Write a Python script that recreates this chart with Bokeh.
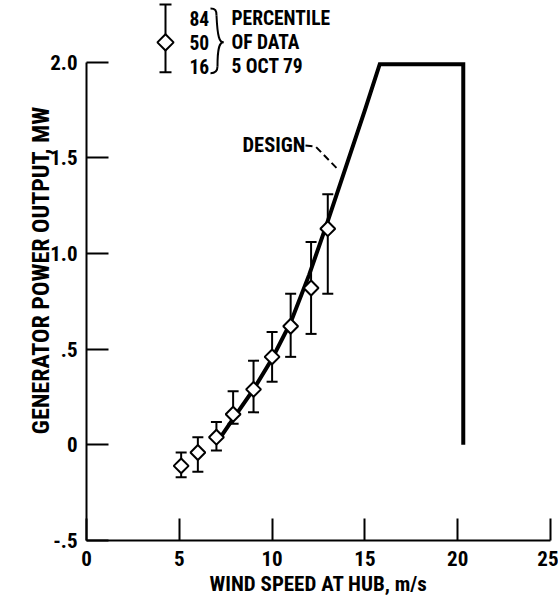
from bokeh.plotting import figure
from bokeh.models import ColumnDataSource, Whisker, TeeHead, Label, FixedTicker, Range1d
from bokeh.embed import file_html
from bokeh.resources import INLINE

# ---- data ----
speed = [5.1, 6.0, 7.0, 7.9, 9.0, 10.0, 11.0, 12.1, 13.0]
p50 = [-0.11, -0.04, 0.04, 0.16, 0.29, 0.46, 0.62, 0.82, 1.13]
p84 = [-0.04, 0.04, 0.12, 0.28, 0.44, 0.59, 0.79, 1.06, 1.31]
p16 = [-0.17, -0.14, -0.03, 0.11, 0.17, 0.33, 0.46, 0.58, 0.79]

design_speed = [7.15, 8.0, 9.0, 10.0, 11.0, 12.0, 13.0, 14.0, 15.0, 15.8, 20.3, 20.3]
design_power = [0.03, 0.15, 0.29, 0.45, 0.64, 0.89, 1.17, 1.46, 1.75, 1.99, 1.99, 0.0]

x_ticks = [0, 5, 10, 15, 20, 25]
x_tick_labels = ["0", "5", "10", "15", "20", "25"]
y_ticks = [-0.5, 0.0, 0.5, 1.0, 1.5, 2.0]
y_tick_labels = ["-.5", "0", ".5", "1.0", "1.5", "2.0"]

x_title = "WIND SPEED AT HUB, m/s"
y_title = "GENERATOR POWER OUTPUT, MW"
legend_levels = ["84", "50", "16"]
legend_text = ["PERCENTILE", "OF DATA", "5 OCT 79"]

FONT = "Roboto Condensed"

# page-pixel -> data helpers for decorations only
X0, XS = 86.0, 18.56
YB, YS = 542.0, 192.0
def dx(px):
    return (px - X0) / XS
def dy(py):
    return (YB - py) / YS - 0.5

p = figure(width=558, height=598,
           x_range=Range1d(0, 25), y_range=Range1d(-0.5, dy(0)),
           output_backend="svg", toolbar_location=None,
           min_border_left=86, min_border_right=8,
           min_border_top=0, min_border_bottom=56)
p.outline_line_color = None
p.xgrid.visible = False
p.ygrid.visible = False
p.background_fill_color = "white"
p.border_fill_color = "white"

for ax, ticks, labels in ((p.xaxis[0], x_ticks, x_tick_labels), (p.yaxis[0], y_ticks, y_tick_labels)):
    ax.ticker = FixedTicker(ticks=ticks)
    ax.major_label_overrides = {t: l for t, l in zip(ticks, labels)}
    ax.major_tick_in = 22
    ax.major_tick_out = 0
    ax.minor_tick_line_color = None
    ax.axis_line_width = 2
    ax.major_tick_line_width = 2
    ax.axis_line_color = "black"
    ax.major_tick_line_color = "black"
    ax.major_label_text_font = FONT
    ax.major_label_text_font_style = "bold"
    ax.major_label_text_font_size = "21px"
    ax.major_label_text_color = "black"
    ax.axis_label_text_font = FONT
    ax.axis_label_text_font_style = "bold"
    ax.axis_label_text_color = "black"

p.xaxis[0].bounds = (0, 25)
p.yaxis[0].bounds = (-0.5, 2.0)
p.xaxis[0].axis_label = x_title
p.yaxis[0].axis_label = y_title
p.xaxis[0].axis_label_text_font_size = "21px"
p.yaxis[0].axis_label_text_font_size = "24px"
p.xaxis[0].major_label_standoff = 10
p.yaxis[0].major_label_standoff = 9
p.xaxis[0].axis_label_standoff = 3
p.yaxis[0].axis_label_standoff = -8

# ---- error bars ----
src = ColumnDataSource(dict(x=speed, y=p50, up=p84, lo=p16))
w = Whisker(source=src, base="x", upper="up", lower="lo", dimension="height",
            line_width=2, line_color="black",
            upper_head=TeeHead(size=11, line_width=2, line_color="black"),
            lower_head=TeeHead(size=11, line_width=2, line_color="black"))
p.add_layout(w)

# ---- design curve ----
p.line(design_speed, design_power, line_width=4, line_color="black", line_join="miter")

# ---- data diamonds ----
p.scatter("x", "y", source=src, marker="square", angle=0.7853981634, size=10.5,
          fill_color="white", line_color="black", line_width=2)

# ---- DESIGN label + leader ----
p.add_layout(Label(x=dx(242), y=dy(145), text="DESIGN", text_font=FONT, text_font_style="bold",
                   text_font_size="20.5px", text_baseline="middle", text_align="left", text_color="black"))
p.line([dx(305), dx(315), dx(337)], [dy(145.5), dy(146.5), dy(169)],
       line_width=2, line_color="black", line_dash="7 4")

# ---- legend key ----
kx = dx(165)
ksrc = ColumnDataSource(dict(x=[kx], y=[dy(42)], up=[dy(4)], lo=[dy(72)]))
p.add_layout(Whisker(source=ksrc, base="x", upper="up", lower="lo", dimension="height",
                     line_width=2, line_color="black",
                     upper_head=TeeHead(size=12, line_width=2, line_color="black"),
                     lower_head=TeeHead(size=12, line_width=2, line_color="black")))
p.scatter("x", "y", source=ksrc, marker="square", angle=0.7853981634, size=11.5,
          fill_color="white", line_color="black", line_width=2)

for i, (lv, tx) in enumerate(zip(legend_levels, legend_text)):
    yy = dy(18 + i * 24)
    p.add_layout(Label(x=dx(189), y=yy, text=lv, text_font=FONT, text_font_style="bold",
                       text_font_size="19.5px", text_baseline="middle", text_align="left", text_color="black"))
    p.add_layout(Label(x=dx(231), y=yy, text=tx, text_font=FONT, text_font_style="bold",
                       text_font_size="19.5px", text_baseline="middle", text_align="left", text_color="black"))

# brace
bx0 = [dx(210), dx(216), dx(223), dx(217)]
by0 = [dy(8), dy(15), dy(42), dy(66)]
bx1 = [dx(216), dx(223), dx(217), dx(210)]
by1 = [dy(15), dy(42), dy(66), dy(73)]
cxa = [dx(215), dx(217), dx(219), dx(217)]
cya = [dy(8), dy(37), dy(42), dy(71)]
cxb = [dx(216), dx(219), dx(217), dx(215)]
cyb = [dy(10), dy(42), dy(47), dy(73)]
p.bezier(x0=bx0, y0=by0, x1=bx1, y1=by1, cx0=cxa, cy0=cya, cx1=cxb, cy1=cyb,
         line_width=2, line_color="black")

open("out.html", "w").write(file_html(p, INLINE))
